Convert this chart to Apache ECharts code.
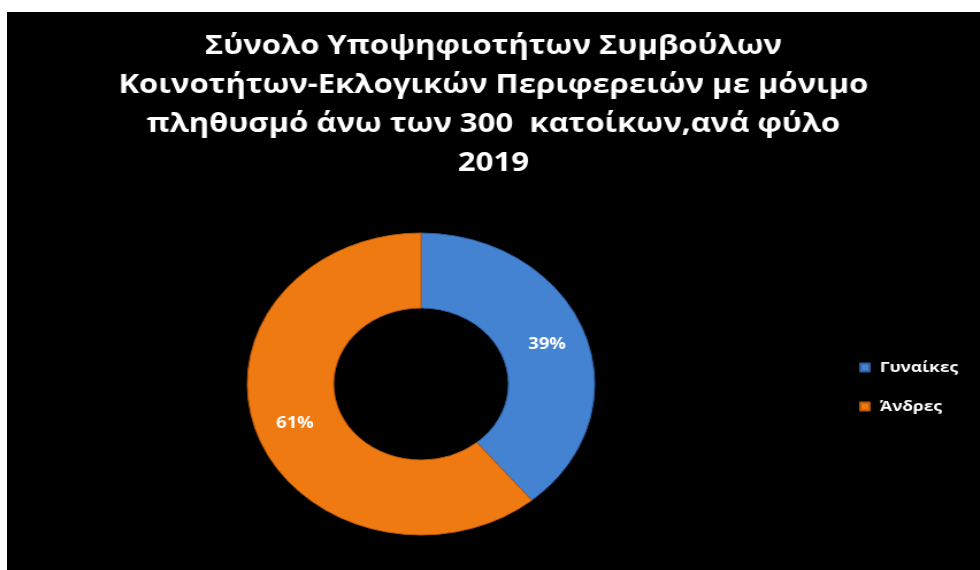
<!DOCTYPE html>
<html>
<head>
<meta charset="utf-8">
<script src="https://cdn.jsdelivr.net/npm/echarts@6/dist/echarts.min.js"></script>
<style>
  html, body { margin: 0; padding: 0; background: #ffffff; overflow: hidden; }
  #frame { position: absolute; left: 7px; top: 12px; width: 973px; height: 558px; background: #000; overflow: hidden; }
  /* the original picture is stretched sideways, so the chart is drawn narrow and widened */
  #container { width: 846px; height: 558px; transform: scaleX(1.15); transform-origin: 0 0; }
</style>
</head>
<body>
<div id="frame"><div id="container"></div></div>
<script>
var titleLines = [
  'Σύνολο Υποψηφιοτήτων Συμβούλων',
  'Κοινοτήτων-Εκλογικών Περιφερειών με μόνιμο',
  'πληθυσμό άνω των 300  κατοίκων,ανά φύλο',
  '2019'
];
var categories = ['Γυναίκες', 'Άνδρες'];
var shares = [39, 61];
var colors = ['#4482d2', '#f07a12'];
var edgeColors = ['#2f5f9e', '#b85a0c'];

var dom = document.getElementById('container');
var myChart = echarts.init(dom, null, { renderer: 'canvas' });

var pieData = [];
for (var i = 0; i < categories.length; i++) {
  pieData.push({
    name: categories[i],
    value: shares[i],
    itemStyle: {
      color: colors[i],
      borderColor: edgeColors[i],
      borderWidth: 1
    }
  });
}

var option = {
  backgroundColor: '#000000',
  animation: false,
  title: {
    text: titleLines.join('\n'),
    left: 'center',
    top: 10,
    textStyle: {
      color: '#ffffff',
      fontFamily: 'Open Sans',
      fontWeight: 'bold',
      fontSize: 27,
      lineHeight: 39
    }
  },
  legend: {
    orient: 'vertical',
    left: 741,
    top: 347,
    padding: 0,
    itemWidth: 8,
    itemHeight: 8,
    itemGap: 22,
    icon: 'rect',
    data: categories,
    textStyle: {
      color: '#ffffff',
      fontFamily: 'Open Sans',
      fontWeight: 'bold',
      fontSize: 15,
      lineHeight: 17,
      padding: [0, 0, 0, 4]
    }
  },
  series: [
    {
      type: 'pie',
      center: [360, 372],
      radius: [76, 151],
      startAngle: 90,
      clockwise: true,
      silent: true,
      label: {
        show: true,
        position: 'inside',
        formatter: '{d}%',
        color: '#ffffff',
        fontFamily: 'Open Sans',
        fontWeight: 'bold',
        fontSize: 16
      },
      labelLine: { show: false },
      data: pieData
    }
  ]
};

if (option && typeof option === 'object') {
  myChart.setOption(option, true);
}
</script>
</body>
</html>
